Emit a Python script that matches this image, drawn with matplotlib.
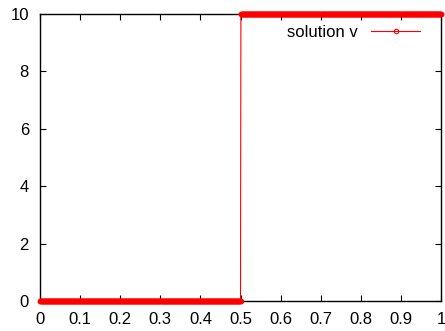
import numpy as np
import matplotlib.pyplot as plt

plt.rcParams['font.family'] = ['Liberation Sans', 'DejaVu Sans']
plt.rcParams['font.size'] = 12

# Solution v: sampled on a uniform grid, jumps from 0 to 10 at x = 0.5
n_points = 1001
x_start, x_end = 0.0, 1.0
jump_at = 0.5
v_left, v_right = 0.0, 10.0

x = np.linspace(x_start, x_end, n_points)
v = np.where(x <= jump_at, v_left, v_right)

xticks = [0, 0.1, 0.2, 0.3, 0.4, 0.5, 0.6, 0.7, 0.8, 0.9, 1]
xticklabels = ['0', '0.1', '0.2', '0.3', '0.4', '0.5', '0.6', '0.7', '0.8', '0.9', '1']
yticks = [0, 2, 4, 6, 8, 10]

fig = plt.figure(figsize=(4.45, 3.31), dpi=100)
ax = fig.add_axes([40 / 445, 30 / 331, 401 / 445, 287 / 331])

ax.plot(x, v, color='red', linewidth=0.8, marker='o', markersize=3.2,
        markerfacecolor='none', markeredgewidth=0.8, label='solution v',
        clip_on=False, zorder=3)

ax.set_xlim(0, 1)
ax.set_ylim(0, 10)
ax.set_xticks(xticks)
ax.set_xticklabels(xticklabels)
ax.set_yticks(yticks)
ax.tick_params(direction='in', top=True, right=True, length=4, width=0.8,
               labelsize=12, pad=8)
for s in ax.spines.values():
    s.set_linewidth(1)

ax.legend(loc='upper right', frameon=False, markerfirst=False,
          handlelength=2.93, handletextpad=0.8, fontsize=12,
          bbox_to_anchor=(0.9476, 0.963), borderaxespad=0, borderpad=0)

fig.savefig('out.png', dpi=100)
